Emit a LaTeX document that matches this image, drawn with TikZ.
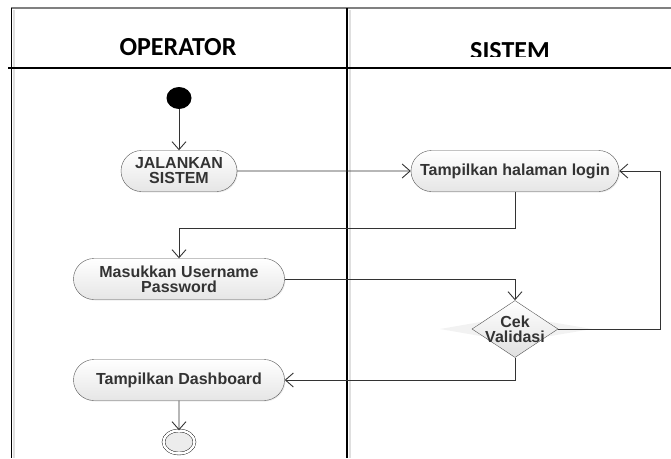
\documentclass[tikz,border=0pt]{standalone}
\usepackage{fontspec}
\setmainfont{Liberation Sans}
\newfontfamily\headfont{Carlito}
\usetikzlibrary{positioning,shapes.geometric,shapes.misc,arrows.meta,shadows}

\definecolor{txtgray}{HTML}{333333}
\definecolor{linegray}{HTML}{555555}

\tikzset{
  act/.style={draw=linegray,rounded rectangle,top color=white,bottom color=black!10,
    font=\bfseries\fontsize{16}{15}\selectfont,text=txtgray,align=center,
    minimum height=41pt,inner sep=2pt,
    drop shadow={shadow xshift=1pt,shadow yshift=-1pt,opacity=0.15}},
  cek/.style={draw=linegray,diamond,top color=white,bottom color=black!12,
    font=\bfseries\fontsize{16}{15}\selectfont,text=txtgray,align=center,
    inner xsep=-28pt,inner ysep=-14pt,minimum width=86pt,minimum height=57pt},
  arr/.style={draw=txtgray,line width=0.9pt,-{Straight Barb[length=8pt,width=14pt]}},
  lane/.style={line width=1.2pt},
  head/.style={font=\headfont\bfseries\fontsize{26}{26}\selectfont},
}

\begin{document}
\begin{tikzpicture}[x=1pt,y=-1pt]
\useasboundingbox (0,0) rectangle (671,458);

% swimlanes
\draw[gray!25,line width=2pt] (14,10) -- (14,458);
\draw[gray!25,line width=2pt] (349.5,10) -- (349.5,458);
\draw[gray,line width=1.5pt] (11,8) -- (671,8);
\draw[lane] (11.5,8) -- (11.5,458);
\draw[lane] (347,8) -- (347,458);
\draw[lane] (8,68) -- (671,68);

\node[head] (operator) at (178,47) {OPERATOR};
\begin{scope}
  \clip (348,9) rectangle (671,56);
  \node[head] (sistem) at (510,51) {SISTEM};
\end{scope}

% activities
\node[ellipse,fill=black,minimum width=25pt,minimum height=22pt,inner sep=0pt]
    (start) at (179,98) {};
\node[act,minimum width=120pt](jalan) at (179,171) {JALANKAN\\SISTEM};
\node[act,minimum width=212pt](login) at (515,171) {Tampilkan halaman login};
\node[act,minimum width=215pt](masuk) at (179,279) {Masukkan Username\\Password};

\fill[gray!10] (440,329) -- (515,316) -- (592,329) -- (515,342) -- cycle;
\node[cek](cek) at (515,329) {Cek\\Validasi};

\node[act,minimum width=215pt](dash) at (179,380) {Tampilkan Dashboard};
\node[ellipse,draw=black,double,double distance=2.5pt,fill=gray!15,
    minimum width=31pt,minimum height=23pt,inner sep=0pt] (stop) at (179,442) {};

\draw[arr] (start) -- (jalan);
\draw[arr] (jalan) -- (login);
\draw[arr] (login.south) -- ++(0,37) -| (masuk.north);
\draw[arr] (masuk.east) -| (cek.north);
\draw[arr] (cek.east) -- ++(102,0) |- (login.east);
\draw[arr] (cek.south) |- (dash.east);
\draw[arr] (dash) -- (stop);

\end{tikzpicture}
\end{document}
